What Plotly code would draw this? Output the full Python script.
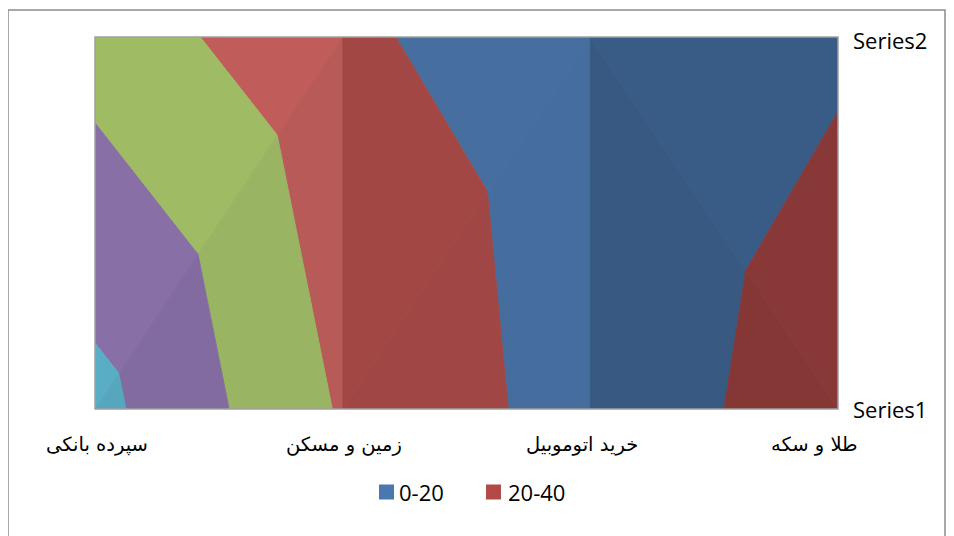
import plotly.graph_objects as go

# ---------------- data ----------------
categories = ["سپرده بانکی", "زمین و مسکن", "خرید اتوموبیل", "طلا و سکه"]
series_names = ["Series1", "Series2"]
series1 = [86.0, 38.0, 11.1, 27.6]
series2 = [52.2, 23.5, 7.2, 18.1]
band_edges = [0, 20, 40, 60, 80, 100]
band_labels = ["0-20", "20-40", "40-60", "60-80", "80-100"]
legend_labels = ["0-20", "20-40"]

# ---------------- style ----------------
band_colors = ["#4F81BD", "#C0504D", "#9BBB59", "#8064A2", "#4BACC6"]
cell_diagonal = ["up", "up", "down"]          # how each cell is split into triangles
# (k, a) lighting per triangle: colour = base*k + 255*a ; [upper, lower]
cell_shade = [[(0.88, 0.09), (0.84, 0.09)],
              [(0.815, 0.022), (0.805, 0.022)],
              [(0.71, 0.0), (0.69, 0.0)]]
label_xshift = [2, 1, -8, -24]
legend_square_px = [379, 486]   # left edge of each legend key (screen px)
legend_text_px = [397, 506]
legend_y_px = 492
FONT = "Open Sans, DejaVu Sans, sans-serif"
AR_FONT = "DejaVu Sans, sans-serif"

Z = [series1, series2]

# page offset (browser body margin) and figure geometry
OFF = 8
W, H = 946, 528
L, R, T, B = 87, 116, 29, 127
pw, ph = W - L - R, H - T - B


def px(X):
    return (X - OFF - L) / pw


def py(Y):
    return 1 - (Y - OFF - T) / ph


def shade(hexcol, k, a):
    r, g, b = (int(hexcol[i:i + 2], 16) for i in (1, 3, 5))
    f = lambda c: max(0, min(255, round(c * k + 255 * a)))
    return "#%02X%02X%02X" % (f(r), f(g), f(b))


def clip(poly, fn):
    out = []
    n = len(poly)
    for i in range(n):
        p, q = poly[i], poly[(i + 1) % n]
        fp, fq = fn(p[2]), fn(q[2])
        if fp >= 0:
            out.append(p)
        if (fp >= 0) != (fq >= 0):
            t = fp / (fp - fq)
            out.append(tuple(p[m] + t * (q[m] - p[m]) for m in range(3)))
    return out


fig = go.Figure()

for c in range(len(categories) - 1):
    P = lambda i, j: (i, j, Z[j][i])
    if cell_diagonal[c] == "up":
        tris = [[P(c, 0), P(c, 1), P(c + 1, 1)], [P(c, 0), P(c + 1, 0), P(c + 1, 1)]]
    else:
        tris = [[P(c, 1), P(c + 1, 1), P(c + 1, 0)], [P(c, 0), P(c + 1, 0), P(c, 1)]]
    for ti, tri in enumerate(tris):
        k, a = cell_shade[c][ti]
        for b in range(len(band_labels)):
            lo, hi = band_edges[b], band_edges[b + 1]
            poly = clip(tri, lambda v: v - lo)
            if len(poly) >= 3:
                poly = clip(poly, lambda v: hi - v)
            if len(poly) < 3:
                continue
            col = shade(band_colors[b], k, a)
            xs = [p[0] for p in poly] + [poly[0][0]]
            ys = [p[1] for p in poly] + [poly[0][1]]
            fig.add_trace(go.Scatter(
                x=xs, y=ys, mode="lines", fill="toself", fillcolor=col,
                line=dict(color=col, width=0.8), hoverinfo="skip",
                name=band_labels[b], showlegend=False))

annotations = []
for i, cat in enumerate(categories):
    annotations.append(dict(
        x=i, y=0, xref="x", yref="y", text=cat, showarrow=False,
        xanchor="center", yanchor="middle", yshift=-35, xshift=label_xshift[i],
        font=dict(family=AR_FONT, size=19.5, color="#000000")))
for j, sname in enumerate(series_names):
    annotations.append(dict(
        x=1, y=j, xref="paper", yref="y", text=sname, showarrow=False,
        xanchor="left", yanchor="middle", xshift=13, yshift=(-3 if j == 1 else 0),
        font=dict(family=FONT, size=22, color="#000000")))

shapes = [
    dict(type="rect", xref="paper", yref="paper",
         x0=px(8), x1=px(945), y0=py(545), y1=py(10),
         line=dict(color="#8C8C8C", width=1.5), layer="below"),
    dict(type="rect", xref="paper", yref="paper", x0=0, x1=1, y0=0, y1=1,
         line=dict(color="#A0A0A0", width=1.5), layer="above"),
]

# legend keys (only the first two bands are listed, as in the original)
for b, lab in enumerate(legend_labels):
    x0 = legend_square_px[b]
    shapes.append(dict(type="rect", xref="paper", yref="paper",
                       x0=px(x0), x1=px(x0 + 15),
                       y0=py(legend_y_px + 7.5), y1=py(legend_y_px - 7.5),
                       fillcolor=shade(band_colors[b], 0.93, 0.0),
                       line=dict(width=0)))
    annotations.append(dict(x=px(legend_text_px[b]), y=py(legend_y_px),
                            xref="paper", yref="paper", text=lab,
                            showarrow=False, xanchor="left", yanchor="middle",
                            font=dict(family=FONT, size=22, color="#000000")))

fig.update_layout(
    width=W, height=H,
    margin=dict(l=L, r=R, t=T, b=B),
    paper_bgcolor="white", plot_bgcolor="white",
    xaxis=dict(range=[0, len(categories) - 1], visible=False, fixedrange=True),
    yaxis=dict(range=[0, 1], visible=False, fixedrange=True),
    showlegend=False,
    annotations=annotations,
    shapes=shapes,
)

fig.write_html("out.html")
